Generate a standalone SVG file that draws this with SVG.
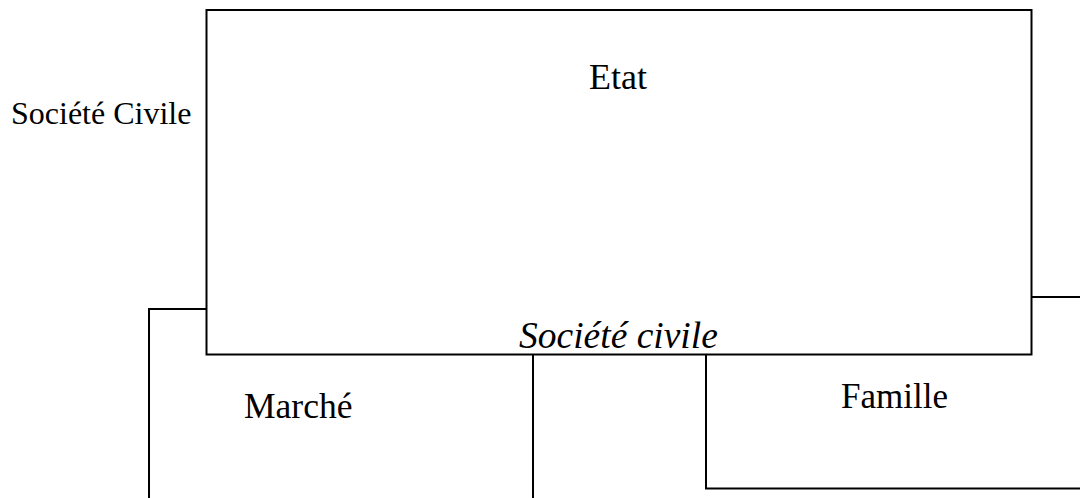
<svg xmlns="http://www.w3.org/2000/svg" width="1080" height="498" viewBox="0 0 1080 498">
<style>
.t{font-family:"Liberation Serif","Times New Roman",serif;fill:#000}
.ln{fill:none;stroke:#000;stroke-width:2}
</style>
<rect width="1080" height="498" fill="#fff"/>
<g id="etat">
<rect class="ln" x="206.5" y="10" width="825" height="344.5"/>
<text class="t" x="589" y="89" font-size="36">Etat</text>
</g>
<g id="societe-civile-label">
<text class="t" x="11" y="124" font-size="32">Société Civile</text>
</g>
<g id="societe-civile-italic">
<text class="t" x="519" y="348" font-size="37.5" font-style="italic">Société civile</text>
</g>
<g id="marche">
<text class="t" x="244" y="418" font-size="35.5">Marché</text>
</g>
<g id="famille">
<text class="t" x="841" y="408" font-size="35">Famille</text>
</g>
<g id="connectors">
<polyline class="ln" points="149,498 149,309 206.5,309"/>
<line class="ln" x1="533" y1="354.5" x2="533" y2="498"/>
<polyline class="ln" points="706,354.5 706,488.5 1080,488.5"/>
<line class="ln" x1="1031.5" y1="297" x2="1080" y2="297"/>
</g>
</svg>
